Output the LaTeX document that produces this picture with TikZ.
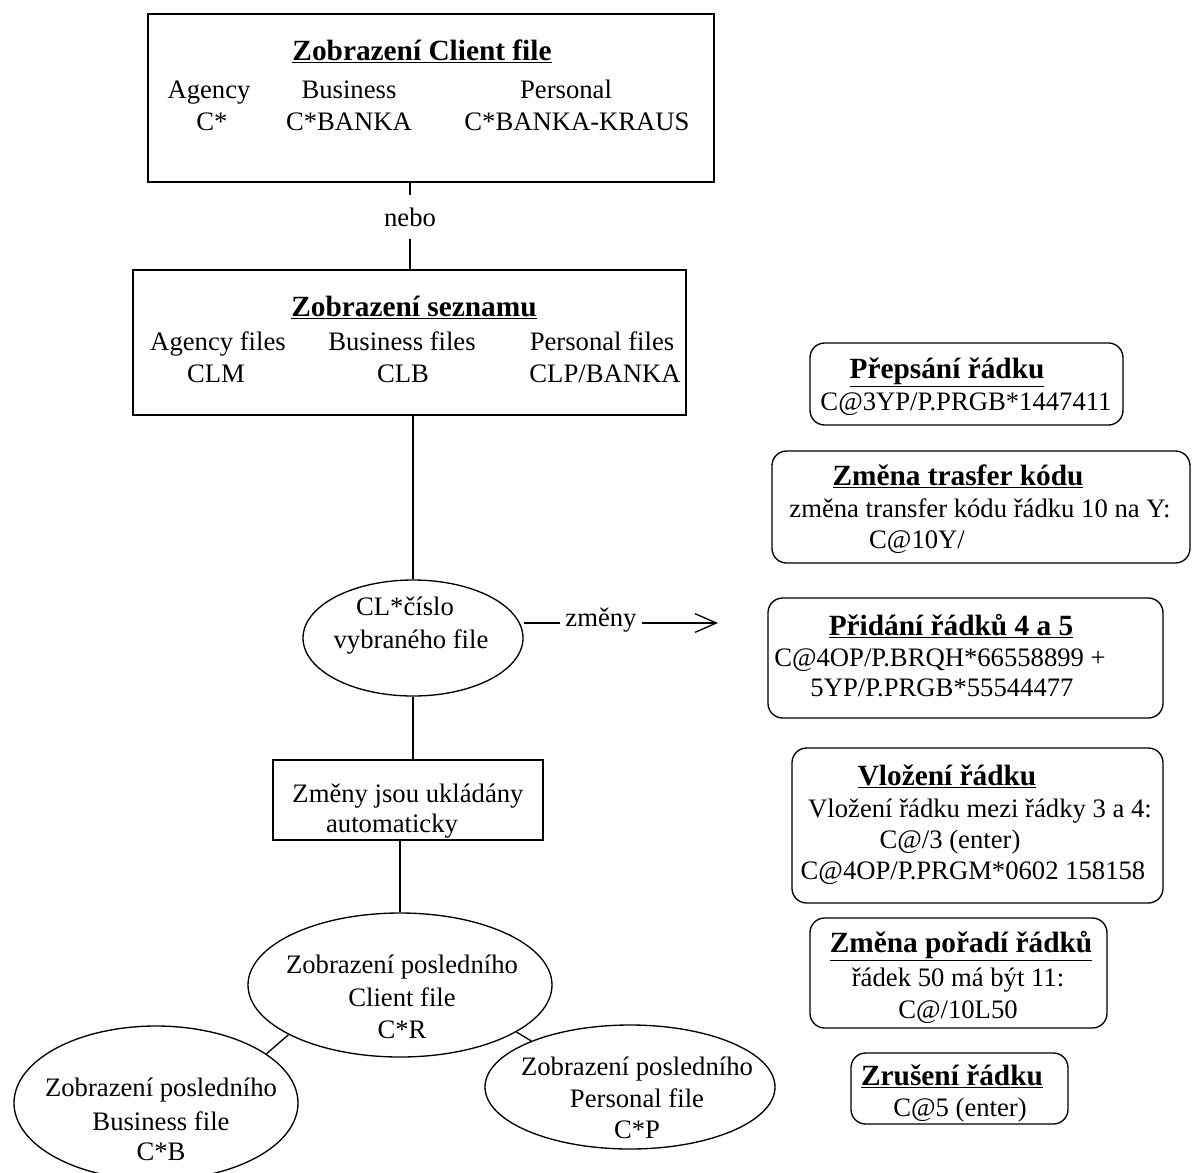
\documentclass[tikz,border=0pt]{standalone}
\usepackage{fontspec}
\setmainfont{Liberation Serif}
\usetikzlibrary{shapes.geometric,arrows.meta}
\begin{document}
\begin{tikzpicture}[x=0.75pt,y=-0.75pt,
  lw/.style={line width=1pt},
  box/.style={draw,lw,rectangle,inner sep=0pt},
  rbox/.style={draw,lw,rectangle,rounded corners=11pt,inner sep=0pt},
  ell/.style={draw,lw,ellipse,inner sep=0pt},
  txt/.style={anchor=base,inner sep=0pt,font=\fontsize{20}{24}\selectfont},
  hd/.style={anchor=base,inner sep=0pt,font=\fontsize{22}{24}\selectfont\bfseries},
  conn/.style={lw}]
\useasboundingbox (0,0) rectangle (1193,1172);

% ---- main boxes
\node[box,minimum width=566*0.75pt,minimum height=168*0.75pt] (b1) at (431,98) {};
\node[hd] (b1h) at (422,60) {\underline{Zobrazení Client file}};
\node[txt] (b1a) at (209,98) {Agency};
\node[txt] (b1b) at (349,98) {Business};
\node[txt] (b1c) at (566,98) {Personal};
\node[txt] (b1d) at (212,130) {C*};
\node[txt] (b1e) at (349,130) {C*BANKA};
\node[txt] (b1f) at (577,130) {C*BANKA-KRAUS};

\node[txt,inner ysep=9pt] (nebo) at (410,226) {nebo};

\node[box,minimum width=553*0.75pt,minimum height=145*0.75pt] (b2) at (409.5,342.5) {};
\node[hd] (b2h) at (414,316) {\underline{Zobrazení seznamu}};
\node[txt] (b2a) at (218,350) {Agency files};
\node[txt] (b2b) at (402,350) {Business files};
\node[txt] (b2c) at (602,350) {Personal files};
\node[txt] (b2d) at (216,382) {CLM};
\node[txt] (b2e) at (403,382) {CLB};
\node[txt] (b2f) at (605,382) {CLP/BANKA};

\node[ell,minimum width=220*0.75pt,minimum height=116*0.75pt] (e1) at (413,638) {};
\node[txt] (e1a) at (405,615) {CL*číslo};
\node[txt] (e1b) at (411,648) {vybraného file};

\node[txt,anchor=center,inner xsep=4pt] (zm) at (601,620) {změny};
\coordinate (tip) at (718,623);

\node[box,minimum width=270*0.75pt,minimum height=80*0.75pt] (b3) at (408,800) {};
\node[txt] (b3a) at (408,802) {Změny jsou ukládány};
\node[txt] (b3b) at (392,832) {automaticky};

\node[ell,minimum width=304*0.75pt,minimum height=144*0.75pt] (e2) at (400,985) {};
\node[txt] (e2a) at (402,973) {Zobrazení posledního};
\node[txt] (e2b) at (402,1006) {Client file};
\node[txt] (e2c) at (402,1038) {C*R};

\node[ell,minimum width=284*0.75pt,minimum height=154*0.75pt] (bus) at (156,1103) {};
\node[txt] (busa) at (161,1096) {Zobrazení posledního};
\node[txt] (busb) at (161,1130) {Business file};
\node[txt] (busc) at (161,1160) {C*B};

\node[ell,minimum width=290*0.75pt,minimum height=124*0.75pt] (per) at (630,1087) {};
\node[txt] (pera) at (637,1075) {Zobrazení posledního};
\node[txt] (perb) at (637,1107) {Personal file};
\node[txt] (perc) at (637,1138) {C*P};

% ---- right column
\node[rbox,minimum width=313*0.75pt,minimum height=82*0.75pt] (r1) at (966.5,384) {};
\node[hd] (r1h) at (947,378) {\underline{Přepsání řádku}};
\node[txt] (r1a) at (966,410) {C@3YP/P.PRGB*1447411};

\node[rbox,minimum width=418*0.75pt,minimum height=112*0.75pt] (r2) at (981,507) {};
\node[hd] (r2h) at (958,485) {\underline{Změna trasfer kódu}};
\node[txt] (r2a) at (980,517) {změna transfer kódu řádku 10 na Y:};
\node[txt] (r2b) at (917,548) {C@10Y/};

\node[rbox,minimum width=395*0.75pt,minimum height=120*0.75pt] (r3) at (965.5,658) {};
\node[hd] (r3h) at (951,635) {\underline{Přidání řádků 4 a 5}};
\node[txt] (r3a) at (940,666) {C@4OP/P.BRQH*66558899 +};
\node[txt] (r3b) at (942,696) {5YP/P.PRGB*55544477};

\node[rbox,minimum width=371*0.75pt,minimum height=155*0.75pt] (r4) at (977.5,825.5) {};
\node[hd] (r4h) at (947,785) {\underline{Vložení řádku}};
\node[txt] (r4a) at (980,817) {Vložení řádku mezi řádky 3 a 4:};
\node[txt] (r4b) at (950,848) {C@/3 (enter)};
\node[txt] (r4c) at (973,879) {C@4OP/P.PRGM*0602 158158};

\node[rbox,minimum width=297*0.75pt,minimum height=110*0.75pt] (r5) at (958.5,973) {};
\node[hd] (r5h) at (961,952) {\underline{Změna pořadí řádků}};
\node[txt] (r5a) at (958,986) {řádek 50 má být 11:};
\node[txt] (r5b) at (958,1018) {C@/10L50};

\node[rbox,minimum width=217*0.75pt,minimum height=71*0.75pt] (r6) at (959.5,1088.5) {};
\node[hd] (r6h) at (952,1085) {\underline{Zrušení řádku}};
\node[txt] (r6a) at (960,1116) {C@5 (enter)};

% ---- connectors
\draw[conn] (b1.south -| nebo) -- (nebo.north);
\draw[conn] (nebo.south) -- (b2.north -| nebo);
\draw[conn] (e1.north |- b2.south) -- (e1.north);
\draw[conn] (e1.east |- tip) -- (zm.west |- tip);
\draw[conn,-{Straight Barb[length=16pt,width=14pt]}] (zm.east |- tip) -- (tip);
\draw[conn] (e1.south) -- (e1.south |- b3.north);
\draw[conn] (e2.north |- b3.south) -- (e2.north);
\draw[conn] (e2.204) -- (bus.24);
\draw[conn] (e2.338) -- (per.155);
\end{tikzpicture}
\end{document}
